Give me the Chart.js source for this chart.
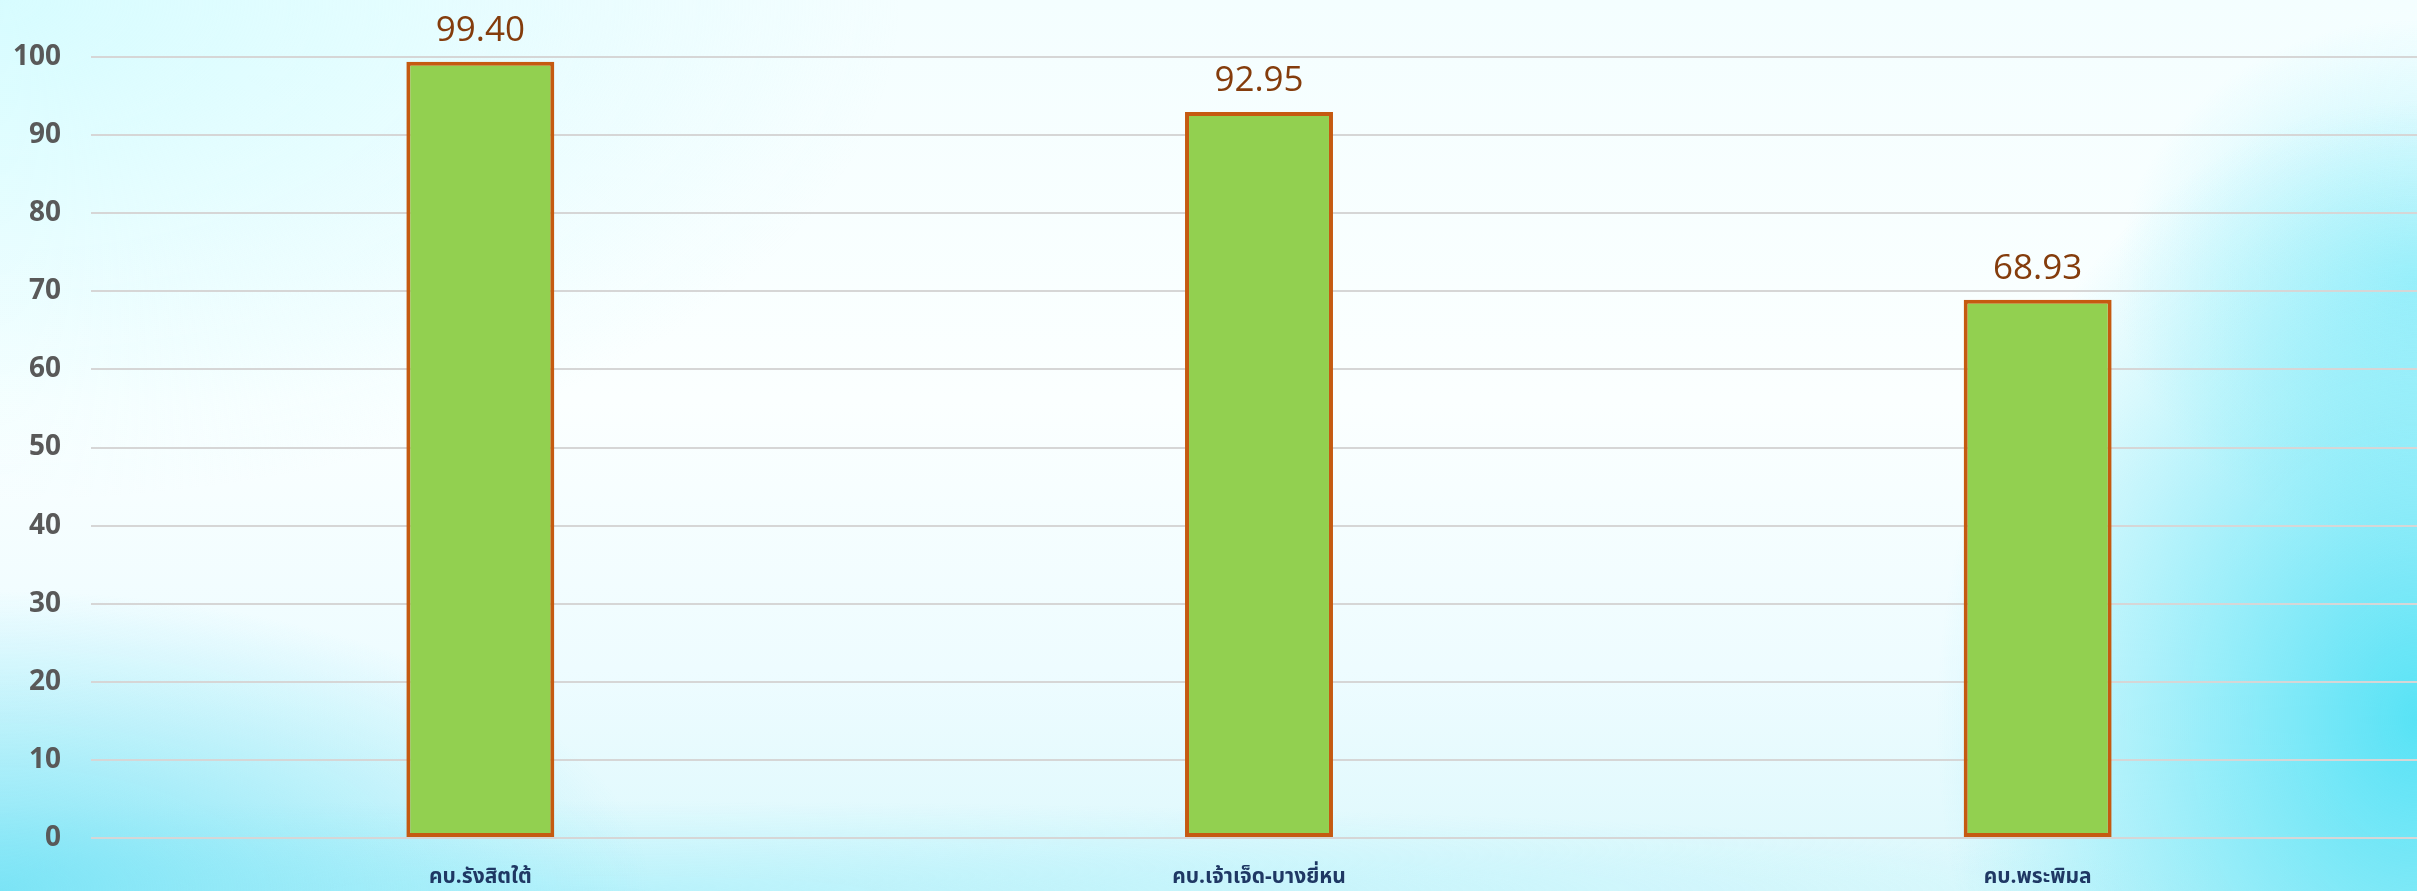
<!DOCTYPE html>
<html>
<head>
<meta charset="utf-8">
<script src="https://cdn.jsdelivr.net/npm/chart.js@4/dist/chart.umd.min.js"></script>
<style>
  html, body { margin: 0; padding: 0; width: 2417px; height: 891px; overflow: hidden; }
  body {
    background:
      radial-gradient(ellipse 480px 620px at 2417px 720px, rgba(80,225,245,0.95), rgba(80,225,245,0) 100%),
      radial-gradient(ellipse 300px 260px at 2417px 280px, rgba(120,235,250,0.55), rgba(120,235,250,0) 100%),
      radial-gradient(ellipse 650px 300px at 0px 891px, rgba(110,225,245,0.85), rgba(110,225,245,0) 100%),
      radial-gradient(ellipse 1600px 90px at 600px 891px, rgba(160,238,250,0.6), rgba(160,238,250,0) 100%),
      radial-gradient(ellipse 900px 500px at 0px 0px, rgba(215,252,255,1), rgba(215,252,255,0) 100%),
      linear-gradient(180deg, #f4feff 0%, #fbffff 45%, #eefcff 75%, #dcf8fc 100%);
  }
  #wrap { position: absolute; left: 0; top: 0; width: 2427px; height: 891px; }
</style>
</head>
<body>
<div id="wrap"><canvas id="c" width="2427" height="891"></canvas></div>
<script>
const categories = ["คบ.รังสิตใต้", "คบ.เจ้าเจ็ด-บางยี่หน", "คบ.พระพิมล"];
const values = [99.40, 92.95, 68.93];
const yTicks = [0, 10, 20, 30, 40, 50, 60, 70, 80, 90, 100];

const valueLabels = {
  id: 'valueLabels',
  afterDatasetsDraw(chart) {
    const ctx = chart.ctx;
    const meta = chart.getDatasetMeta(0);
    ctx.save();
    ctx.font = '500 35px "Open Sans", "Noto Sans", sans-serif';
    ctx.fillStyle = '#843C0C';
    ctx.textAlign = 'center';
    ctx.textBaseline = 'alphabetic';
    meta.data.forEach((bar, i) => {
      ctx.fillText(values[i].toFixed(2), bar.x, bar.y - 21);
    });
    ctx.restore();
  }
};

new Chart(document.getElementById('c'), {
  type: 'bar',
  data: {
    labels: categories,
    datasets: [{
      data: values,
      backgroundColor: '#92D050',
      borderColor: '#C55A11',
      borderWidth: 4,
      borderSkipped: false,
      barPercentage: 0.19,
      categoryPercentage: 1.0
    }]
  },
  options: {
    responsive: false,
    animation: false,
    layout: { padding: { top: 57, right: 0, bottom: 0, left: 0 } },
    plugins: { legend: { display: false }, tooltip: { enabled: false } },
    scales: {
      x: {
        grid: { display: false, drawTicks: false },
        border: { display: false },
        ticks: {
          padding: 28,
          color: '#1F3864',
          font: { family: '"Noto Sans Thai", "Noto Sans", sans-serif', size: 21, weight: 'bold' },
          maxRotation: 0
        },
        afterFit(scale) { scale.height = 53; }
      },
      y: {
        min: 0,
        max: 100,
        afterBuildTicks(scale) { scale.ticks = yTicks.map(v => ({ value: v })); },
        grid: { color: '#D6D6D6', lineWidth: 2, drawTicks: false },
        border: { display: false },
        ticks: {
          padding: 30,
          color: '#595959',
          font: { family: '"Open Sans", sans-serif', size: 28, weight: 'bold' }
        },
        afterFit(scale) { scale.width = 91; }
      }
    }
  },
  plugins: [valueLabels]
});
</script>
</body>
</html>
